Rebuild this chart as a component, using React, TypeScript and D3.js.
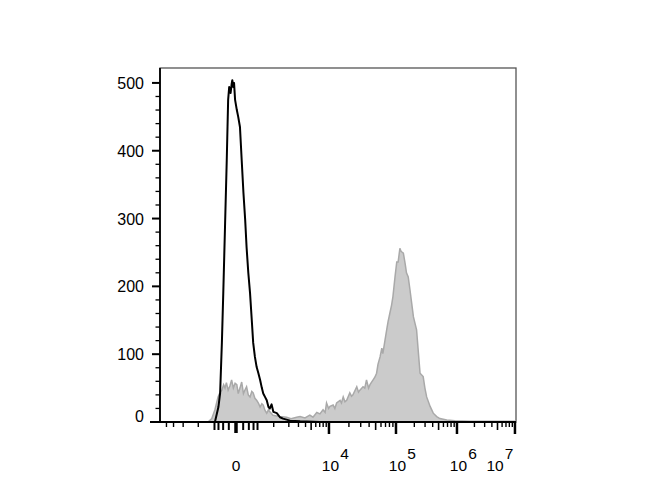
import React from "react";
import * as d3 from "d3";

// Histogram data: x in display channels (0-1024), y in event counts
const blackChannels = [0, 152, 158, 168, 173, 178, 182, 187, 192, 196, 199, 203, 206, 208, 211, 213, 216, 221, 225, 230, 235, 240, 245, 249, 254, 259, 264, 268, 273, 278, 283, 288, 293, 297, 302, 307, 312, 316, 321, 326, 336, 345, 354, 374, 403, 460, 1024];
const blackCounts = [0, 0, 0, 22, 43, 117, 190, 288, 386, 475, 494, 485, 498, 504, 494, 500, 475, 460, 450, 435, 386, 338, 298, 258, 220, 190, 150, 117, 96, 81, 72, 62, 50, 42, 37, 32, 22, 20, 26, 15, 13, 7, 5, 2, 1, 0, 0];

const grayChannels = [0, 138, 149, 158, 167, 173, 178, 183, 187, 191, 196, 201, 206, 211, 216, 221, 225, 230, 235, 240, 245, 249, 254, 259, 264, 268, 273, 278, 283, 288, 293, 297, 302, 307, 312, 316, 325, 336, 345, 364, 377, 393, 403, 417, 431, 440, 451, 460, 469, 475, 479, 485, 489, 498, 503, 508, 518, 522, 527, 532, 537, 546, 551, 555, 566, 571, 575, 584, 589, 594, 600, 604, 613, 618, 623, 627, 633, 638, 641, 647, 652, 656, 661, 666, 670, 676, 681, 685, 688, 690, 693, 695, 700, 705, 709, 714, 719, 724, 729, 738, 742, 748, 757, 762, 767, 777, 786, 796, 805, 825, 848, 892, 1024];
const grayCounts = [0, 0, 5, 18, 37, 44, 47, 55, 50, 58, 47, 53, 62, 50, 57, 55, 42, 50, 59, 42, 48, 52, 40, 37, 45, 43, 35, 32, 28, 22, 27, 25, 17, 13, 18, 15, 10, 9, 8, 7, 5, 7, 8, 6, 10, 7, 14, 12, 18, 14, 28, 20, 23, 25, 20, 28, 32, 28, 37, 30, 32, 43, 38, 40, 52, 44, 47, 52, 50, 62, 50, 55, 62, 66, 72, 85, 96, 109, 101, 120, 136, 148, 160, 172, 185, 214, 236, 236, 248, 256, 252, 251, 249, 234, 220, 214, 195, 175, 155, 136, 110, 72, 67, 50, 37, 23, 13, 8, 5, 3, 2, 1, 1];

// Axis ticks
const yMajorTicks = [0, 100, 200, 300, 400, 500];
const yMinorTicks = d3.range(20, 520, 20).filter((v) => v % 100 !== 0);
const xDecadeTicks = [4, 5, 6, 7];
const xNearZeroTicks = [-400, -300, -200, -100, 100, 200, 300, 400];
const xMinorTicks = [-4000, -3000, -2000, -1000, 1000, 2000, 3000, 4000, 6000, 7000, 8000, 9000,
  20000, 30000, 40000, 60000, 70000, 80000, 90000,
  200000, 300000, 400000, 600000, 700000, 800000, 900000,
  2000000, 3000000, 4000000, 6000000, 7000000, 8000000, 9000000];
const xMidTicks = [5000, 50000, 500000, 5000000];

const W = 670, H = 500;
const left = 160, right = 516, top = 68, bottom = 422;

export default function App() {
  const x = d3.scaleLinear().domain([0, 1024]).range([left, right]);
  const y = d3.scaleLinear().domain([0, 522]).range([bottom, top]);

  // biexponential display: value -> channel
  const sl = (v: number) => Math.sign(v) * Math.log1p(Math.abs(v) / 327);
  const valToChan = d3.scaleLinear()
    .domain([0, 1e4, 1e5, 1e6, 1e7].map(sl))
    .range([218.6, 486, 678.8, 854.2, 1021]);
  const xv = (v: number) => x(valToChan(sl(v)));

  const grayData = grayChannels.map((c, i) => [c, grayCounts[i]] as [number, number]);
  const blackData = blackChannels.map((c, i) => [c, blackCounts[i]] as [number, number]);

  const area = d3.area<[number, number]>().x((d) => x(d[0])).y0(y(0)).y1((d) => y(d[1]));
  const line = d3.line<[number, number]>().x((d) => x(d[0])).y((d) => y(d[1]));

  const font = "'Liberation Sans', Arial, sans-serif";

  return (
    <svg width={W} height={H} style={{ position: "absolute", left: 0, top: 0 }}>
      <rect width={W} height={H} fill="#fff" />
      {/* frame */}
      <rect x={left} y={top} width={right - left} height={bottom - top} fill="none" stroke="#555" strokeWidth={1.3} />
      {/* gray histogram */}
      <path d={area(grayData) || ""} fill="#cbcbcb" stroke="none" />
      <path d={line(grayData) || ""} fill="none" stroke="#a9a9a9" strokeWidth={1.5} />
      {/* black histogram */}
      <path d={line(blackData) || ""} fill="none" stroke="#000" strokeWidth={2} strokeLinejoin="round" />
      {/* axes lines */}
      <line x1={left} x2={left} y1={top} y2={bottom} stroke="#000" strokeWidth={1.8} />
      <line x1={150} x2={right} y1={bottom} y2={bottom} stroke="#000" strokeWidth={2} />
      {/* y ticks */}
      {yMajorTicks.map((t) => (
        <g key={"ym" + t}>
          <line x1={left - 8} x2={left} y1={y(t)} y2={y(t)} stroke="#000" strokeWidth={2} />
          <text x={144} y={y(t) + 6 - (t === 0 ? 6 : 0)} textAnchor="end" fontSize={16} fontFamily={font} fill="#000">{t}</text>
        </g>
      ))}
      {yMinorTicks.map((t) => (
        <line key={"yn" + t} x1={left - 4.5} x2={left} y1={y(t)} y2={y(t)} stroke="#000" strokeWidth={1.3} />
      ))}
      {/* x ticks */}
      {xMinorTicks.map((t) => (
        <line key={"xn" + t} x1={xv(t)} x2={xv(t)} y1={bottom} y2={bottom + 5} stroke="#000" strokeWidth={1.4} />
      ))}
      {xMidTicks.map((t) => (
        <line key={"xm" + t} x1={xv(t)} x2={xv(t)} y1={bottom} y2={bottom + 8} stroke="#000" strokeWidth={1.6} />
      ))}
      {xNearZeroTicks.map((t) => (
        <line key={"xz" + t} x1={xv(t)} x2={xv(t)} y1={bottom} y2={bottom + 8} stroke="#000" strokeWidth={2} />
      ))}
      <line x1={xv(0)} x2={xv(0)} y1={bottom} y2={bottom + 11} stroke="#000" strokeWidth={3.5} />
      {xDecadeTicks.map((p) => (
        <line key={"xd" + p} x1={xv(Math.pow(10, p))} x2={xv(Math.pow(10, p))} y1={bottom} y2={bottom + 12} stroke="#000" strokeWidth={2.5} />
      ))}
      {/* x labels */}
      <text x={xv(0)} y={471} textAnchor="middle" fontSize={15.5} fontFamily={font} fill="#000">0</text>
      {xDecadeTicks.map((p) => {
        const cx = Math.min(xv(Math.pow(10, p)) + 1.5, right - 21);
        return (
          <g key={"xl" + p}>
            <text x={cx} y={471} textAnchor="middle" fontSize={15.5} fontFamily={font} fill="#000">10</text>
            <text x={cx + 9.8} y={459} textAnchor="start" fontSize={15.5} fontFamily={font} fill="#000">{p}</text>
          </g>
        );
      })}
    </svg>
  );
}
